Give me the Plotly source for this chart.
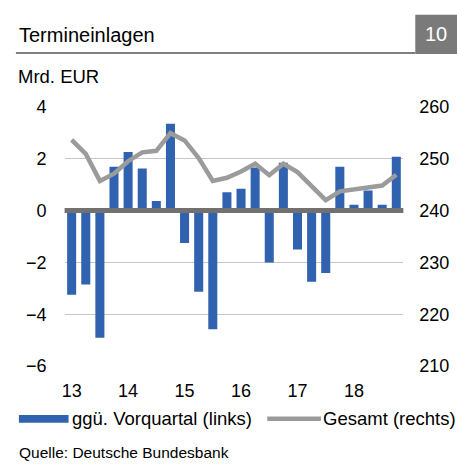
import plotly.graph_objects as go

# quarters 2013Q1 .. 2018Q4
quarters = [f"{y}Q{q}" for y in range(2013, 2019) for q in range(1, 5)]
year_ticks = ["2013Q1", "2014Q1", "2015Q1", "2016Q1", "2017Q1", "2018Q1"]
year_labels = ["13", "14", "15", "16", "17", "18"]

# change vs previous quarter, bn EUR (left axis)
change_qoq = [-3.25, -2.85, -4.9, 1.69,
              2.25, 1.62, 0.37, 3.34,
              -1.25, -3.13, -4.58, 0.70,
              0.84, 1.66, -2.0, 1.84,
              -1.5, -2.75, -2.41, 1.69,
              0.22, 0.77, 0.22, 2.07]

# total stock, bn EUR (right axis)
total = [253.6, 250.9, 245.7, 247.1,
         249.5, 251.2, 251.5, 254.9,
         253.5, 250.1, 245.7, 246.3,
         247.5, 249.0, 246.8, 249.0,
         247.4, 244.7, 242.0, 243.7,
         244.1, 244.6, 244.8, 246.9]

W, H = 457, 470
BLUE = "#3162b0"
GREY_LINE = "#9b9b9b"
DARK = "#717171"
FONT = "Liberation Sans, Arial, sans-serif"


def px_x(v):
    return v / W


def px_y(v):
    return 1 - v / H


fig = go.Figure()
fig.add_trace(go.Bar(x=quarters, y=change_qoq, marker=dict(color=BLUE, line=dict(width=0)),
                     yaxis="y", showlegend=False))
fig.add_trace(go.Scatter(x=quarters, y=total, mode="lines", yaxis="y2",
                         line=dict(color=GREY_LINE, width=4.5), showlegend=False))

fig.update_layout(
    width=W, height=H,
    margin=dict(l=0, r=0, t=0, b=0),
    paper_bgcolor="white", plot_bgcolor="white",
    font=dict(family=FONT, size=18, color="#000"),
    bargap=0.36,
    xaxis=dict(domain=[px_x(62), px_x(403)], type="category",
               tickmode="array", tickvals=year_ticks, ticktext=year_labels,
               showgrid=False, showline=False, ticks="", ticklabelstandoff=12),
    yaxis=dict(domain=[px_y(372), px_y(101)], range=[-6, 4], dtick=2,
               showgrid=True, gridcolor="#c6c6c6", gridwidth=1,
               zeroline=False, showline=False, ticks="", ticklabelstandoff=17),
    yaxis2=dict(overlaying="y", side="right", range=[210, 260], dtick=10,
                showgrid=False, zeroline=False, showline=False, ticks="",
                ticklabelstandoff=15),
)

shapes = [
    # zero line on top of the bars
    dict(type="line", xref="paper", yref="y", x0=px_x(62), x1=px_x(403), y0=0, y1=0,
         line=dict(color=DARK, width=5), layer="above"),
    # header rule and number box
    dict(type="line", xref="paper", yref="paper", x0=px_x(13), x1=px_x(415), y0=px_y(45), y1=px_y(45),
         line=dict(color="#7f7f7f", width=2)),
    dict(type="rect", xref="paper", yref="paper", x0=px_x(415), x1=1, y0=px_y(46), y1=px_y(5),
         fillcolor="#7a7a7a", line=dict(width=0)),
    # legend markers
    dict(type="rect", xref="paper", yref="paper", x0=px_x(16), x1=px_x(66), y0=px_y(431), y1=px_y(423),
         fillcolor=BLUE, line=dict(width=0)),
    dict(type="line", xref="paper", yref="paper", x0=px_x(266), x1=px_x(320), y0=px_y(427), y1=px_y(427),
         line=dict(color=GREY_LINE, width=4.5)),
]

annotations = [
    dict(text="Termineinlagen", x=px_x(14), y=px_y(26), xanchor="left", yanchor="middle",
         font=dict(size=20)),
    dict(text="10", x=px_x(436), y=px_y(25), xanchor="center", yanchor="middle",
         font=dict(size=20, color="white")),
    dict(text="Mrd. EUR", x=px_x(13), y=px_y(69), xanchor="left", yanchor="middle",
         font=dict(size=18.5)),
    dict(text="ggü. Vorquartal (links)", x=px_x(67), y=px_y(427), xanchor="left", yanchor="middle",
         font=dict(size=18.5)),
    dict(text="Gesamt (rechts)", x=px_x(320), y=px_y(427), xanchor="left", yanchor="middle",
         font=dict(size=18.5)),
    dict(text="Quelle: Deutsche Bundesbank", x=px_x(14), y=px_y(462), xanchor="left", yanchor="middle",
         font=dict(size=15.5)),
]
for a in annotations:
    a.update(xref="paper", yref="paper", showarrow=False)

fig.update_layout(shapes=shapes, annotations=annotations)

fig.write_html("out.html", config={"displayModeBar": False},
               post_script="document.body.style.margin='0';document.body.style.overflow='hidden';")
